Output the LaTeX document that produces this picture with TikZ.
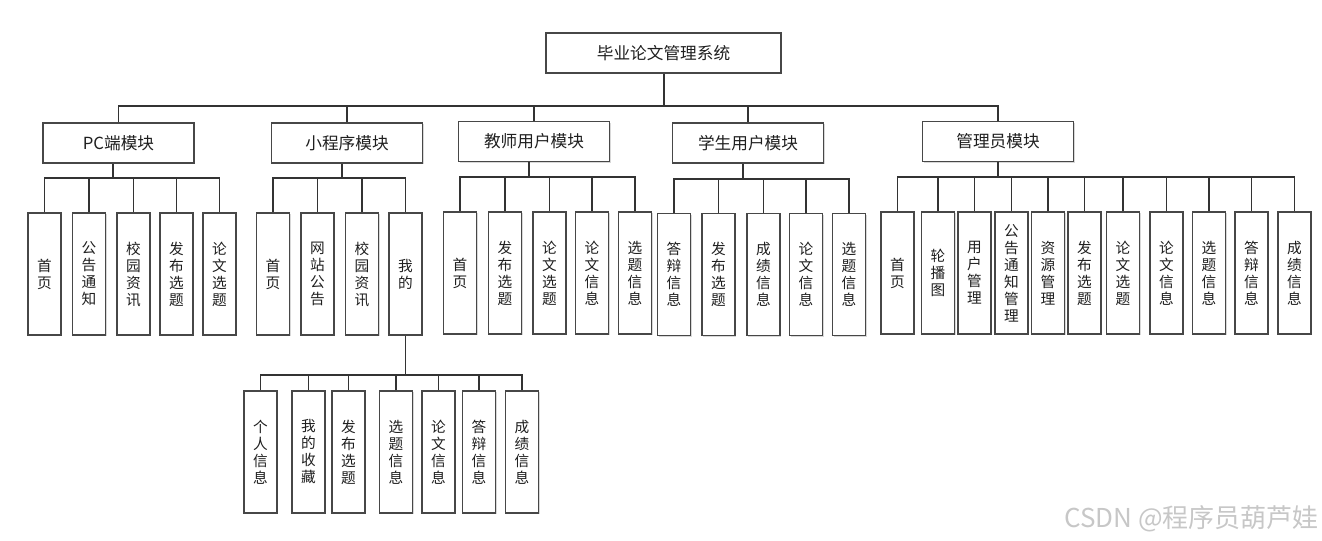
\documentclass[tikz,border=0pt]{standalone}
\usepackage{fontspec}
\setmainfont{Noto Sans CJK SC}
\usetikzlibrary{shadows}
\tikzset{
  box/.style={draw=black!72, line width=0.9pt, fill=white, inner sep=0pt, text=black!88,
    drop shadow={shadow xshift=1.1pt, shadow yshift=-1.1pt, fill=black!30, opacity=0.5}},
  rootbox/.style={box, minimum width=176.25pt, minimum height=30pt, font=\fontsize{12.5pt}{15pt}\selectfont},
  modbox/.style={box, minimum width=113.25pt, minimum height=30pt, font=\fontsize{12.5pt}{15pt}\selectfont},
  leaf/.style={box, minimum width=24.75pt, minimum height=91.5pt, align=center, font=\fontsize{11pt}{12.75pt}\selectfont},
  link/.style={draw=black!80, line width=0.9pt}
}
\begin{document}
\begin{tikzpicture}[x=0.75pt,y=-0.75pt]
\useasboundingbox (0,0) rectangle (1322,541);
% root
\node[rootbox] (root) at (663.5,53) {毕业论文管理系统};
% modules
\node[modbox] (pc) at (118.5,143) {PC端模块};
\node[modbox] (mp) at (347,143) {小程序模块};
\node[modbox] (te) at (534,141.5) {教师用户模块};
\node[modbox] (st) at (748,143) {学生用户模块};
\node[modbox] (ad) at (998,141.5) {管理员模块};
% junctions
\coordinate (rj) at (664,106);
\coordinate (pcj) at (113,178);
\coordinate (mpj) at (342,178);
\coordinate (tej) at (529,177);
\coordinate (stj) at (743,179);
\coordinate (adj) at (998,177);
\coordinate (wdj) at (405.5,375);
% PC leaves
\node[leaf] (pc1) at (44.5,274) {首\\页};
\node[leaf] (pc2) at (89,274) {公\\告\\通\\知};
\node[leaf] (pc3) at (133.5,274) {校\\园\\资\\讯};
\node[leaf] (pc4) at (176.5,274) {发\\布\\选\\题};
\node[leaf] (pc5) at (219.5,274) {论\\文\\选\\题};
% mini program leaves
\node[leaf] (mp1) at (273,274) {首\\页};
\node[leaf] (mp2) at (317.5,274) {网\\站\\公\\告};
\node[leaf] (mp3) at (362,274) {校\\园\\资\\讯};
\node[leaf] (mp4) at (405.5,274) {我\\的};
% teacher leaves
\node[leaf] (te1) at (460,273) {首\\页};
\node[leaf] (te2) at (505,273) {发\\布\\选\\题};
\node[leaf] (te3) at (549.5,273) {论\\文\\选\\题};
\node[leaf] (te4) at (592,273) {论\\文\\信\\息};
\node[leaf] (te5) at (635,273) {选\\题\\信\\息};
% student leaves
\node[leaf] (st1) at (674,274.5) {答\\辩\\信\\息};
\node[leaf] (st2) at (718.5,274.5) {发\\布\\选\\题};
\node[leaf] (st3) at (763.5,274.5) {成\\绩\\信\\息};
\node[leaf] (st4) at (806,274.5) {论\\文\\信\\息};
\node[leaf] (st5) at (849,274.5) {选\\题\\信\\息};
% admin leaves
\node[leaf] (ad1) at (897.5,273) {首\\页};
\node[leaf] (ad2) at (938,273) {轮\\播\\图};
\node[leaf] (ad3) at (974.5,273) {用\\户\\管\\理};
\node[leaf] (ad4) at (1011.5,273) {公\\告\\通\\知\\管\\理};
\node[leaf] (ad5) at (1048,273) {资\\源\\管\\理};
\node[leaf] (ad6) at (1084.5,273) {发\\布\\选\\题};
\node[leaf] (ad7) at (1123,273) {论\\文\\选\\题};
\node[leaf] (ad8) at (1166.5,273) {论\\文\\信\\息};
\node[leaf] (ad9) at (1209,273) {选\\题\\信\\息};
\node[leaf] (ad10) at (1251.5,273) {答\\辩\\信\\息};
\node[leaf] (ad11) at (1294.5,273) {成\\绩\\信\\息};
% 我的 sub leaves
\node[leaf] (wd1) at (260.5,452) {个\\人\\信\\息};
\node[leaf] (wd2) at (308.5,452) {我\\的\\收\\藏};
\node[leaf] (wd3) at (348.5,452) {发\\布\\选\\题};
\node[leaf] (wd4) at (396,452) {选\\题\\信\\息};
\node[leaf] (wd5) at (438.5,452) {论\\文\\信\\息};
\node[leaf] (wd6) at (479,452) {答\\辩\\信\\息};
\node[leaf] (wd7) at (522,452) {成\\绩\\信\\息};
% connectors
\draw[link] (root.south -| rj) -- (rj);
\foreach \m in {pc,mp,te,st,ad} \draw[link] (\m.north) |- (rj);
\draw[link] (pc.south -| pcj) -- (pcj);
\foreach \c in {pc1,pc2,pc3,pc4,pc5} \draw[link] (\c.north) |- (pcj);
\draw[link] (mp.south -| mpj) -- (mpj);
\foreach \c in {mp1,mp2,mp3,mp4} \draw[link] (\c.north) |- (mpj);
\draw[link] (te.south -| tej) -- (tej);
\foreach \c in {te1,te2,te3,te4,te5} \draw[link] (\c.north) |- (tej);
\draw[link] (st.south -| stj) -- (stj);
\foreach \c in {st1,st2,st3,st4,st5} \draw[link] (\c.north) |- (stj);
\draw[link] (ad.south -| adj) -- (adj);
\foreach \c in {ad1,ad2,ad3,ad4,ad5,ad6,ad7,ad8,ad9,ad10,ad11} \draw[link] (\c.north) |- (adj);
\draw[link] (mp4.south) -- (wdj);
\foreach \c in {wd1,wd2,wd3,wd4,wd5,wd6,wd7} \draw[link] (\c.north) |- (wdj);
% watermark
\node[anchor=east, inner sep=0pt, text=black!22, font=\fontsize{19.5pt}{19.5pt}\selectfont] (wm) at (1319,519) {CSDN @程序员葫芦娃};
\end{tikzpicture}
\end{document}
